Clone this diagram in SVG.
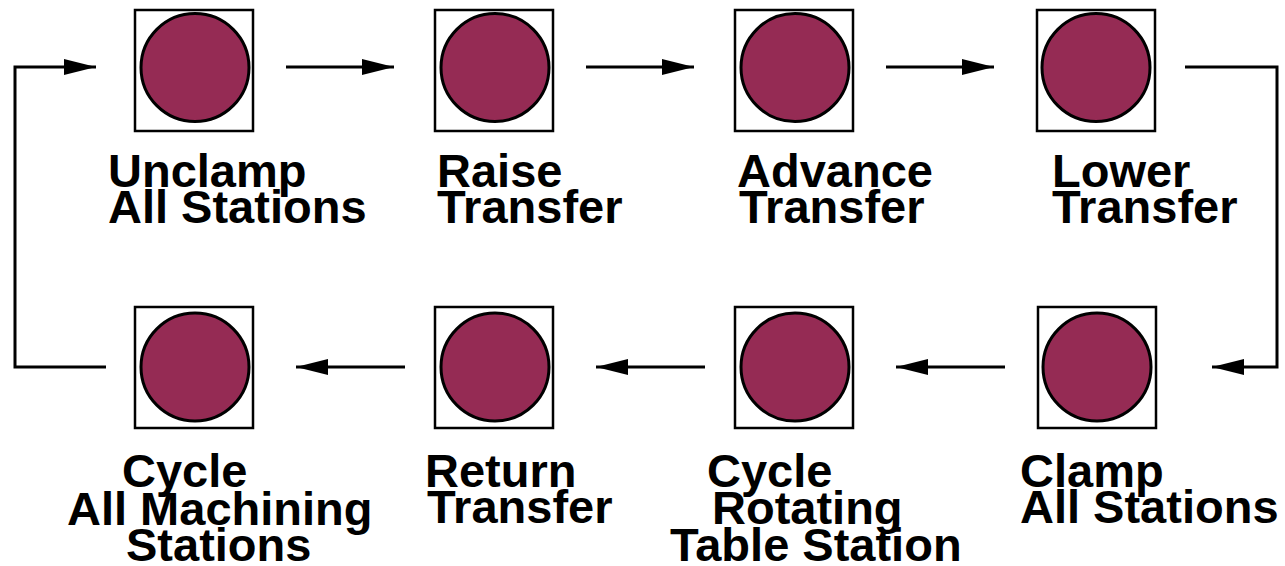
<svg xmlns="http://www.w3.org/2000/svg" width="1285" height="566" viewBox="0 0 1285 566">
<style>
.box{fill:#fff;stroke:#000;stroke-width:2.5}
.dot{fill:#952B54;stroke:#000;stroke-width:3}
.lbl{font-family:"Liberation Sans",Arial,sans-serif;font-weight:bold;font-size:47px;fill:#000}
.con{fill:none;stroke:#000;stroke-width:3}
</style>
<defs>
<marker id="ah" markerUnits="userSpaceOnUse" markerWidth="34" markerHeight="18" refX="32" refY="8" orient="auto">
<path d="M0,0 L32,8 L0,16 z" fill="#000"/>
</marker>
</defs>
<g id="connectors">
<path class="con" d="M286,67 H394" marker-end="url(#ah)"/>
<path class="con" d="M586,67 H694" marker-end="url(#ah)"/>
<path class="con" d="M886,67 H994" marker-end="url(#ah)"/>
<path class="con" d="M1185,67 H1277 V367 H1212" marker-end="url(#ah)"/>
<path class="con" d="M1005,367 H896" marker-end="url(#ah)"/>
<path class="con" d="M705,367 H596" marker-end="url(#ah)"/>
<path class="con" d="M405,367 H296" marker-end="url(#ah)"/>
<path class="con" d="M106,367 H15 V67 H96" marker-end="url(#ah)"/>
</g>
<g id="unclamp">
<rect class="box" x="135" y="10" width="118" height="121"/>
<circle class="dot" cx="195" cy="67.5" r="54"/>
<text class="lbl"><tspan x="108" y="187">Unclamp</tspan><tspan x="108" y="223">All Stations</tspan></text>
</g>
<g id="raise">
<rect class="box" x="435" y="10" width="118" height="121"/>
<circle class="dot" cx="495" cy="67.5" r="54"/>
<text class="lbl"><tspan x="437" y="187">Raise</tspan><tspan x="437" y="223">Transfer</tspan></text>
</g>
<g id="advance">
<rect class="box" x="735" y="10" width="118" height="121"/>
<circle class="dot" cx="795" cy="67.5" r="54"/>
<text class="lbl"><tspan x="737" y="187">Advance</tspan><tspan x="739" y="223">Transfer</tspan></text>
</g>
<g id="lower">
<rect class="box" x="1037" y="10" width="118" height="121"/>
<circle class="dot" cx="1096" cy="67.5" r="54"/>
<text class="lbl"><tspan x="1052" y="187">Lower</tspan><tspan x="1052" y="223">Transfer</tspan></text>
</g>
<g id="clamp">
<rect class="box" x="1038" y="307" width="118" height="121"/>
<circle class="dot" cx="1097" cy="367" r="54"/>
<text class="lbl"><tspan x="1020" y="487">Clamp</tspan><tspan x="1020" y="523">All Stations</tspan></text>
</g>
<g id="rotating">
<rect class="box" x="735" y="307" width="118" height="121"/>
<circle class="dot" cx="795" cy="367" r="54"/>
<text class="lbl"><tspan x="707" y="487">Cycle</tspan><tspan x="712" y="524">Rotating</tspan><tspan x="670" y="561">Table Station</tspan></text>
</g>
<g id="return">
<rect class="box" x="435" y="307" width="118" height="121"/>
<circle class="dot" cx="495" cy="367" r="54"/>
<text class="lbl"><tspan x="425" y="487">Return</tspan><tspan x="427" y="523">Transfer</tspan></text>
</g>
<g id="machining">
<rect class="box" x="135" y="307" width="118" height="121"/>
<circle class="dot" cx="195" cy="367" r="54"/>
<text class="lbl"><tspan x="122" y="487">Cycle</tspan><tspan x="67" y="525">All Machining</tspan><tspan x="126" y="561">Stations</tspan></text>
</g>
</svg>
